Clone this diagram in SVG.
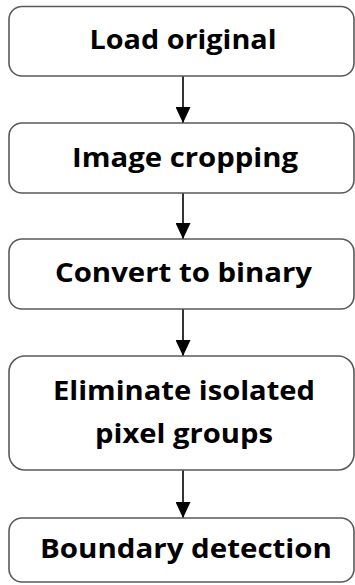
<svg xmlns="http://www.w3.org/2000/svg" width="355" height="585" viewBox="0 0 355 585">
<style>
.box{fill:#fff;stroke:#5a5a5a;stroke-width:1.6}
.t{font-family:"Open Sans","Liberation Sans",sans-serif;font-weight:700;font-size:27.5px;fill:#000;text-anchor:middle}
.c{stroke:#000;stroke-width:1.6;fill:none}
</style>
<defs>
<marker id="ah" markerWidth="16" markerHeight="15" refX="16" refY="7.5" orient="auto" markerUnits="userSpaceOnUse">
<path d="M0,0 L16,7.5 L0,15 Z" fill="#000"/>
</marker>
</defs>
<rect width="355" height="585" fill="#fff"/>
<g id="connectors">
<line class="c" x1="183" y1="76" x2="183" y2="123" marker-end="url(#ah)"/>
<line class="c" x1="183" y1="193" x2="183" y2="239" marker-end="url(#ah)"/>
<line class="c" x1="183" y1="309" x2="183" y2="356" marker-end="url(#ah)"/>
<line class="c" x1="183" y1="470" x2="183" y2="518" marker-end="url(#ah)"/>
</g>
<g id="n1"><rect class="box" x="9" y="6.5" width="345" height="69.5" rx="13"/><text class="t" x="183" y="49" textLength="187" lengthAdjust="spacingAndGlyphs">Load original</text></g>
<g id="n2"><rect class="box" x="9" y="123" width="345" height="70" rx="13"/><text class="t" x="185" y="167" textLength="226" lengthAdjust="spacingAndGlyphs">Image cropping</text></g>
<g id="n3"><rect class="box" x="9" y="239" width="345" height="70" rx="13"/><text class="t" x="183.5" y="282" textLength="257" lengthAdjust="spacingAndGlyphs">Convert to binary</text></g>
<g id="n4"><rect class="box" x="9" y="356" width="345" height="114" rx="16"/><text class="t" x="184" y="400" textLength="262" lengthAdjust="spacingAndGlyphs">Eliminate isolated</text><text class="t" x="184" y="443" textLength="178" lengthAdjust="spacingAndGlyphs">pixel groups</text></g>
<g id="n5"><rect class="box" x="9" y="518" width="345" height="64" rx="13"/><text class="t" x="186" y="558" textLength="292" lengthAdjust="spacingAndGlyphs">Boundary detection</text></g>
</svg>
